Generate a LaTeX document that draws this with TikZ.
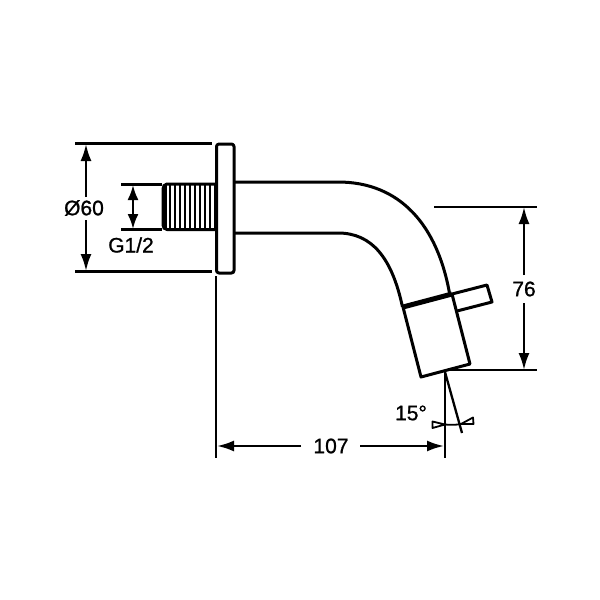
\documentclass[tikz,border=0pt]{standalone}
\usepackage{fontspec}
\setmainfont{Liberation Sans}
\newfontfamily\dimfont{Liberation Sans}[FakeBold=1]
\usetikzlibrary{calc, arrows.meta}
\tikzset{
    part/.style={line width=3pt, line join=round},
    rib/.style={line width=1.6pt},
    dimline/.style={line width=2.3pt},
    dimtip/.style={-{Latex[length=17pt,width=11pt]}},
    dimarrow/.style={line width=2.3pt, {Latex[length=15pt,width=11pt]}-{Latex[length=15pt,width=11pt]}},
    dimlabel/.style={font=\dimfont\fontsize{21}{21}\selectfont, inner sep=0pt}
}
\begin{document}
\begin{tikzpicture}[x=1pt, y=-1pt]
    \useasboundingbox (0,0) rectangle (600,600);
    \coordinate (FL) at (216.5,144); % flange
    \coordinate (FR) at (234,273);
    \draw[part, rounded corners=2.5pt] (FL) rectangle (FR);
    % thread
    \draw[part, rounded corners=2pt] (216,184) -- (165,184) -- (163,187) -- (163,227) -- (165,229.5) -- (216,229.5);
    \draw[line width=4pt] (165,185) -- (165,229);
    \foreach \ribx in {170,175,...,215}
        \draw[rib] (\ribx,185) -- (\ribx,229);
    % spout
    \coordinate (UP) at (450,296);
    \coordinate (LO) at (402.5,307);
    \draw[part] (234,182) -- (338,182) .. controls (400,182) and (438,225) .. (UP);
    \draw[part] (234,233) -- (338,233) .. controls (372,233) and (392,258) .. (LO);
    % body
    \coordinate (BA) at (403,307);
    \coordinate (BB) at (452,294);
    \coordinate (BC) at (470,364);
    \coordinate (BD) at (421,377);
    \draw[part] (BA) -- (BD) -- (BC) -- (BB);
    \draw[line width=5pt] (BA) -- (BB);
    % lever
    \coordinate (HA) at (487,285);
    \coordinate (HB) at (492,302);
    \coordinate (HC) at (457,311);
    \draw[part] (BB) -- (HA) -- (HB) -- (HC);
    % extension lines
    \draw[dimline] (75,143.5) -- (212,143.5);
    \draw[dimline] (75,271.5) -- (212,271.5);
    \draw[dimline] (121,184.5) -- (162,184.5);
    \draw[dimline] (121,229.5) -- (162,229.5);
    \draw[dimline] (434,207) -- (537,207);
    \draw[dimline] (447,370) -- (537,370);
    \draw[dimline] (216,276) -- (216,458);
    \draw[dimline] (445,372) -- (445,458);
    \draw[dimline] (445,372) -- (462,433);
    % dimension arrows
    \node[dimlabel] (dia) at (84,208) {Ø60};
    \draw[dimline, dimtip] (86,197) -- (86,144);
    \draw[dimline, dimtip] (86,220) -- (86,271);
    \node[dimlabel] (thr) at (131,245) {G1/2};
    \draw[dimarrow] (133,185) -- (133,229);
    \node[dimlabel] (hgt) at (524,289) {76};
    \draw[dimline, dimtip] (524,275) -- (524,207);
    \draw[dimline, dimtip] (524,303) -- (524,370);
    \node[dimlabel] (len) at (331,446) {107};
    \draw[dimline, dimtip] (301,446) -- (217,446);
    \draw[dimline, dimtip] (360,446) -- (444,446);
    % angle
    \node[dimlabel] (ang) at (411,413) {15°};
    \draw[line width=1.8pt] (445,424.5) .. controls (450,425) and (456,425) .. (461,424);
    \draw[line width=1.8pt, line join=round] (445,424.5) -- (432.5,421.5) -- (432.5,428) -- cycle;
    \draw[line width=1.8pt, line join=round] (461,424) -- (473,417.5) -- (473.5,424) -- cycle;
\end{tikzpicture}
\end{document}
